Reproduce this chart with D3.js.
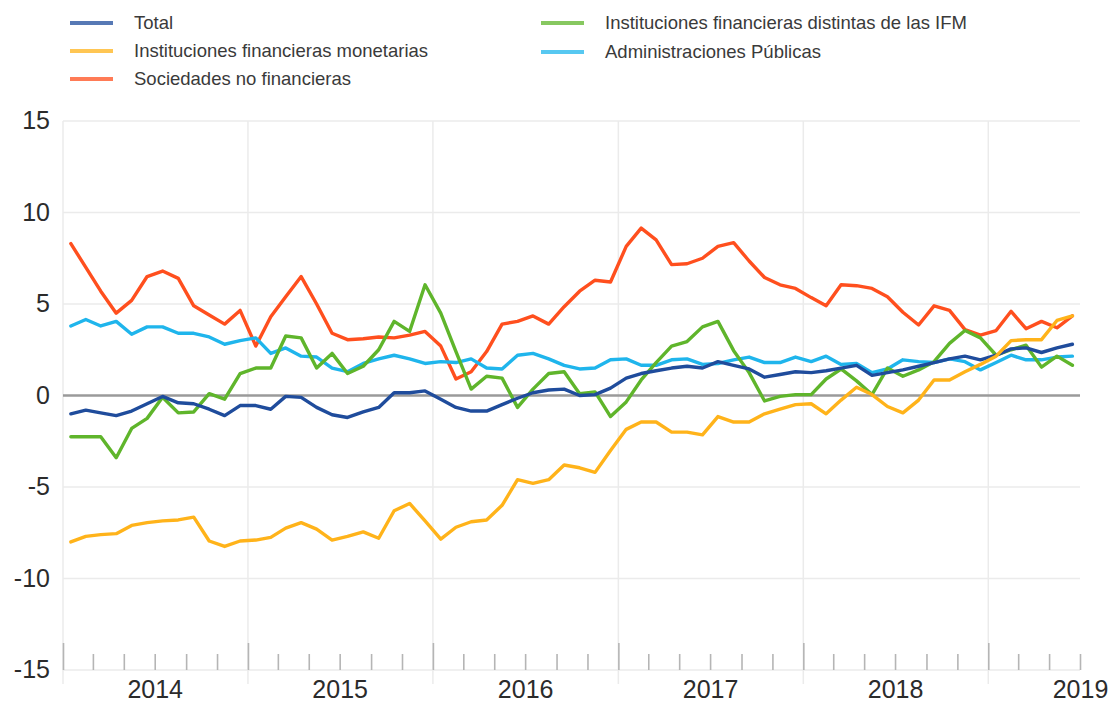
<!DOCTYPE html>
<html lang="es">
<head>
<meta charset="UTF-8">
<title>Depósitos por sector</title>
<script src="https://d3js.org/d3.v7.min.js"></script>
<style>
  body, html { margin: 0; padding: 0; background: #fff; overflow: hidden; }
  svg { display: block; font-family: "Liberation Sans", Arial, sans-serif; }
  .grid line { stroke: #ebebeb; stroke-width: 1.5; }
  .tick-axis line { stroke: #b5b5b5; stroke-width: 1.6; }
  .tick-axis path, .lab-axis path, .y-axis path { display: none; }
  .lab-axis text, .y-axis text { fill: #2b2b2b; font-size: 25px; }
  .legend text { fill: #3a3a3a; font-size: 18.5px; }
  .series { fill: none; stroke-width: 3.4; stroke-linejoin: round; stroke-linecap: round; }
</style>
</head>
<body>
<svg width="1110" height="703"></svg>
<script>
// monthly data, Jan 2014 - Jun 2019
const total = [-1.0, -0.8, -0.95, -1.1, -0.85, -0.45, -0.05, -0.4, -0.45, -0.75, -1.1, -0.55,
  -0.55, -0.75, -0.05, -0.1, -0.65, -1.05, -1.2, -0.9, -0.65, 0.15, 0.15, 0.25,
  -0.2, -0.65, -0.85, -0.85, -0.5, -0.15, 0.15, 0.3, 0.35, 0.0, 0.05, 0.4,
  0.95, 1.2, 1.35, 1.5, 1.6, 1.5, 1.85, 1.65, 1.45, 1.0, 1.15, 1.3,
  1.25, 1.35, 1.5, 1.65, 1.1, 1.25, 1.4, 1.6, 1.8, 2.0, 2.15, 1.95,
  2.2, 2.55, 2.6, 2.35, 2.6, 2.8];
const ifm = [-8.0, -7.7, -7.6, -7.55, -7.1, -6.95, -6.85, -6.8, -6.65, -7.95, -8.25, -7.95,
  -7.9, -7.75, -7.25, -6.95, -7.3, -7.9, -7.7, -7.45, -7.8, -6.3, -5.9, -6.85,
  -7.85, -7.2, -6.9, -6.8, -6.0, -4.6, -4.8, -4.6, -3.8, -3.95, -4.2, -3.0,
  -1.85, -1.45, -1.45, -2.0, -2.0, -2.15, -1.15, -1.45, -1.45, -1.0, -0.75, -0.5,
  -0.45, -1.0, -0.25, 0.45, 0.05, -0.6, -0.95, -0.25, 0.85, 0.85, 1.3, 1.7,
  2.15, 3.0, 3.05, 3.05, 4.1, 4.35];
const snf = [8.3, 7.0, 5.7, 4.5, 5.2, 6.5, 6.8, 6.4, 4.9, 4.4, 3.9, 4.65,
  2.7, 4.3, 5.4, 6.5, 5.0, 3.4, 3.05, 3.1, 3.2, 3.15, 3.3, 3.5,
  2.7, 0.9, 1.3, 2.4, 3.9, 4.05, 4.35, 3.9, 4.85, 5.7, 6.3, 6.2,
  8.15, 9.15, 8.5, 7.15, 7.2, 7.5, 8.15, 8.35, 7.35, 6.45, 6.05, 5.85,
  5.35, 4.9, 6.05, 6.0, 5.85, 5.4, 4.55, 3.85, 4.9, 4.65, 3.6, 3.3,
  3.55, 4.6, 3.65, 4.05, 3.7, 4.35];
const otrasIf = [-2.25, -2.25, -2.25, -3.4, -1.8, -1.25, -0.1, -0.95, -0.9, 0.1, -0.2, 1.2,
  1.5, 1.5, 3.25, 3.15, 1.5, 2.3, 1.2, 1.6, 2.5, 4.05, 3.5, 6.05,
  4.5, 2.4, 0.35, 1.05, 0.95, -0.65, 0.35, 1.2, 1.3, 0.1, 0.2, -1.15,
  -0.35, 0.85, 1.8, 2.7, 2.95, 3.75, 4.05, 2.45, 1.25, -0.3, -0.05, 0.05,
  0.05, 0.9, 1.45, 0.8, 0.05, 1.5, 1.05, 1.4, 1.85, 2.85, 3.55, 3.15,
  2.2, 2.5, 2.75, 1.55, 2.15, 1.65];
const aapp = [3.8, 4.15, 3.8, 4.05, 3.35, 3.75, 3.75, 3.4, 3.4, 3.2, 2.8, 3.0,
  3.15, 2.3, 2.6, 2.15, 2.1, 1.5, 1.3, 1.75, 2.0, 2.2, 2.0, 1.75,
  1.85, 1.8, 2.0, 1.5, 1.45, 2.2, 2.3, 2.0, 1.65, 1.45, 1.5, 1.95,
  2.0, 1.65, 1.65, 1.95, 2.0, 1.7, 1.75, 1.95, 2.1, 1.8, 1.8, 2.1,
  1.85, 2.15, 1.7, 1.75, 1.25, 1.45, 1.95, 1.85, 1.8, 2.0, 1.85, 1.4,
  1.8, 2.2, 1.95, 1.95, 2.1, 2.15];

const yTicks = [-15, -10, -5, 0, 5, 10, 15];
const years = [2014, 2015, 2016, 2017, 2018, 2019];

const series = [
  {name: "Total", values: total, color: "#1f4c9c"},
  {name: "Instituciones financieras monetarias", values: ifm, color: "#ffb31a"},
  {name: "Sociedades no financieras", values: snf, color: "#ff4f1e"},
  {name: "Instituciones financieras distintas de las IFM", values: otrasIf, color: "#5fb52b"},
  {name: "Administraciones Públicas", values: aapp, color: "#1fb5ec"}
];

const svg = d3.select("svg");
const plotLeft = 63, plotRight = 1080, plotTop = 121, plotBottom = 670;

const x = d3.scaleTime()
  .domain([new Date(2014, 0, 1), new Date(2019, 6, 1)])
  .range([plotLeft, plotRight]);
const y = d3.scaleLinear().domain([-15, 15]).range([plotBottom, plotTop]);

// points at the middle of each month
const dates = total.map((_, i) => {
  const a = new Date(2014, i, 1), b = new Date(2014, i + 1, 1);
  return new Date((+a + +b) / 2);
});

// grid
const grid = svg.append("g").attr("class", "grid");
grid.selectAll(".h").data(yTicks.filter(d => d !== 0)).enter().append("line")
  .attr("x1", plotLeft).attr("x2", plotRight)
  .attr("y1", d => y(d)).attr("y2", d => y(d));
grid.selectAll(".v").data(years.map(yr => new Date(yr, 0, 1))).enter().append("line")
  .attr("x1", d => x(d)).attr("x2", d => x(d))
  .attr("y1", plotTop).attr("y2", plotBottom + 14);

// ticks: small every two months, tall at the start of the year
const minor = d3.timeMonth.every(2).range(new Date(2014, 0, 1), new Date(2019, 6, 2))
  .filter(d => d.getMonth() !== 0);
svg.append("g").attr("class", "tick-axis")
  .attr("transform", `translate(0,${plotBottom})`)
  .call(d3.axisBottom(x).tickValues(minor).tickSizeInner(-16).tickSizeOuter(0).tickFormat(""));
svg.append("g").attr("class", "tick-axis")
  .attr("transform", `translate(0,${plotBottom})`)
  .call(d3.axisBottom(x).tickValues(years.map(yr => new Date(yr, 0, 1))).tickSizeInner(-27).tickSizeOuter(0).tickFormat(""));

// zero line
svg.append("line")
  .attr("x1", plotLeft).attr("x2", plotRight)
  .attr("y1", y(0)).attr("y2", y(0))
  .attr("stroke", "#9a9a9a").attr("stroke-width", 2.6);

// year labels at mid-year
svg.append("g").attr("class", "lab-axis")
  .attr("transform", `translate(0,${plotBottom})`)
  .call(d3.axisBottom(x).tickValues(years.map(yr => new Date(yr, 6, 1)))
    .tickSize(0).tickPadding(10).tickFormat(d3.timeFormat("%Y")))
  .selectAll("line").remove();

// y labels
svg.append("g").attr("class", "y-axis")
  .attr("transform", `translate(${plotLeft},0)`)
  .call(d3.axisLeft(y).tickValues(yTicks).tickSize(0).tickPadding(13).tickFormat(d => String(d)))
  .selectAll("text").attr("dy", "0.3em");

// lines
const line = d3.line().x((d, i) => x(dates[i])).y(d => y(d));
const drawOrder = [2, 4, 3, 0, 1];
svg.append("g").selectAll("path").data(drawOrder.map(i => series[i])).enter().append("path")
  .attr("class", "series")
  .attr("stroke", d => d.color)
  .attr("d", d => line(d.values));

// legend
const legendPos = [[70, 23], [70, 51], [70, 79], [541, 23], [541, 52]];
const legend = svg.append("g").attr("class", "legend");
const item = legend.selectAll("g").data(series).enter().append("g")
  .attr("transform", (d, i) => `translate(${legendPos[i][0]},${legendPos[i][1]})`);
item.append("line")
  .attr("x1", 0).attr("x2", 43)
  .attr("stroke", d => d.color).attr("stroke-width", 4)
  .attr("stroke-opacity", 0.75);
item.append("text")
  .attr("x", 64).attr("dy", "0.35em")
  .text(d => d.name);
</script>
</body>
</html>
